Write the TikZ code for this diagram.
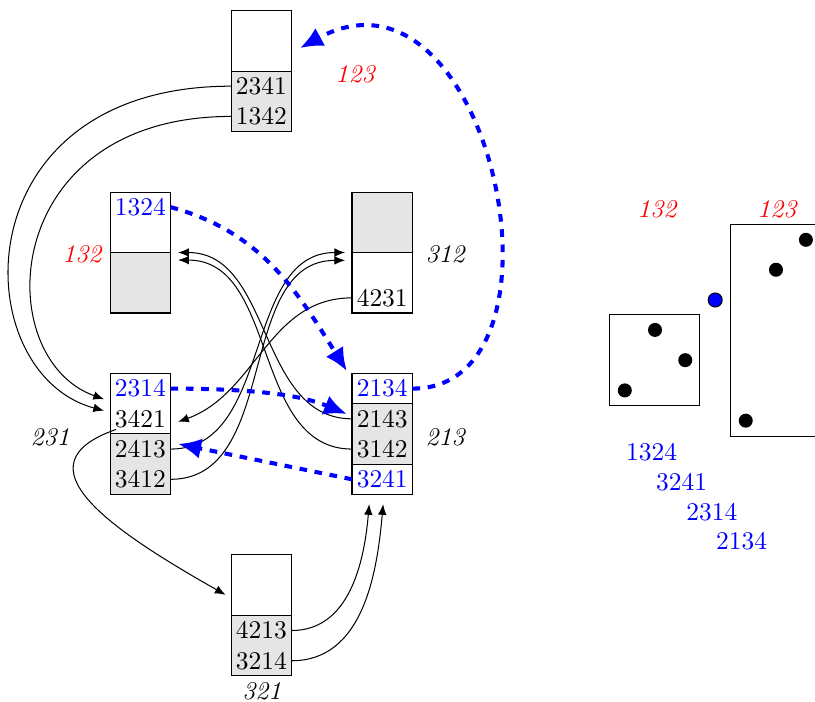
\documentclass[tikz,border=0pt]{standalone}
\usepackage{tikz}
\usetikzlibrary{arrows.meta, calc}

\begin{document}
\begin{tikzpicture}[
    x=0.417cm, y=0.417cm,
    row/.style={minimum width=8.34mm, minimum height=4.17mm, inner sep=0pt, outer sep=0pt},
    lowfill/.style={fill=gray!20},
    perm/.style={font=\itshape},
    arr/.style={-{Latex[length=4.2pt,width=3.4pt]}},
    jump/.style={-{Latex[length=9pt,width=8pt]}, blue, dashed, ultra thick},
    pt/.style={circle, fill=black, inner sep=0pt, minimum size=5.5pt},
]
    \useasboundingbox (-0.64,-0.86) rectangle (26.31,22.35);

    % cells, white and grey parts
    \draw (7,20) rectangle (9,22);
    \filldraw[lowfill] (7,18) rectangle (9,20);
    \draw (3,14) rectangle (5,16);
    \filldraw[lowfill] (3,12) rectangle (5,14);
    \filldraw[lowfill] (11,14) rectangle (13,16);
    \draw (11,12) rectangle (13,14);
    \draw (3,8) rectangle (5,10);
    \filldraw[lowfill] (3,6) rectangle (5,8);
    \draw (11,9) rectangle (13,10);
    \filldraw[lowfill] (11,7) rectangle (13,9);
    \draw (11,6) rectangle (13,7);
    \draw (7,2) rectangle (9,4);
    \filldraw[lowfill] (7,0) rectangle (9,2);

    % entries
    \node[row] (r2341) at (8,19.5) {2341};
    \node[row] (r1342) at (8,18.5) {1342};
    \node[row, text=blue] (r1324) at (4,15.5) {1324};
    \node[row] (r4231) at (12,12.5) {4231};
    \node[row, text=blue] (r2314) at (4,9.5) {2314};
    \node[row] (r3421) at (4,8.5) {3421};
    \node[row] (r2413) at (4,7.5) {2413};
    \node[row] (r3412) at (4,6.5) {3412};
    \node[row, text=blue] (r2134) at (12,9.5) {2134};
    \node[row] (r2143) at (12,8.5) {2143};
    \node[row] (r3142) at (12,7.5) {3142};
    \node[row, text=blue] (r3241) at (12,6.5) {3241};
    \node[row] (r4213) at (8,1.5) {4213};
    \node[row] (r3214) at (8,0.5) {3214};

    % pattern names
    \node[perm, text=red] (l123) at (11.1,19.9) {123};
    \node[perm, text=red] (l132) at (2.07,13.95) {132};
    \node[perm] (l312) at (14.08,13.95) {312};
    \node[perm] (l231) at (1.02,7.9) {231};
    \node[perm] (l213) at (14.08,7.9) {213};
    \node[perm] (l321) at (8.02,-0.5) {321};

    % free ends
    \coordinate (in231a) at (2.8,9.15);
    \coordinate (in231b) at (2.8,8.77);
    \coordinate (in231c) at (5.25,8.4);
    \coordinate (in231d) at (5.25,7.67);
    \coordinate (in132a) at (5.25,14.0);
    \coordinate (in132b) at (5.25,13.75);
    \coordinate (in312a) at (10.77,14.0);
    \coordinate (in312b) at (10.77,13.74);
    \coordinate (in321) at (6.82,2.68);
    \coordinate (in213a) at (10.83,10.08);
    \coordinate (in213b) at (10.83,8.66);
    \coordinate (in213c) at (11.57,5.68);
    \coordinate (in213d) at (12.03,5.68);
    \coordinate (in123) at (9.28,20.76);

    \draw[arr] (r2341.west) .. controls (-2,19.5) and (-1.8,10) .. (in231b);
    \draw[arr] (r1342.west) .. controls (-0.7,18.5) and (-1,10.5) .. (in231a);
    \draw[arr] (r2143.west) to[out=180,in=0] (in132a);
    \draw[arr] (r3142.west) to[out=180,in=0] (in132b);
    \draw[arr] (r2413.east) to[out=0,in=180] (in312a);
    \draw[arr] (r3412.east) to[out=0,in=180] (in312b);
    \draw[arr] (r4231.west) to[out=180,in=20] (in231c);
    \draw[arr] ($(r3421.south west)+(0.2,0.15)$) .. controls (-0.1,7) and (2.9,4.9) .. (in321);
    \draw[arr] (r4213.east) to[out=0,in=265] (in213c);
    \draw[arr] (r3214.east) to[out=0,in=265] (in213d);

    % blue moves
    \draw[jump] (r1324.east) to[out=-15,in=122] (in213a);
    \draw[jump] (r2314.east) .. controls (8.5,9.5) and (9.63,9.15) .. (in213b);
    \draw[jump] (r3241.west) -- (in231d);
    \draw[jump] (r2134.east) .. controls (18.6,9.5) and (15.6,24.2) .. (in123);

    % point plots
    \node[perm, text=red] (p132) at (21.08,15.44) {132};
    \node[perm, text=red] (p123) at (25.05,15.44) {123};
    \draw (19.5,8.95) rectangle (22.5,11.95);
    \draw (23.53,7.93) rectangle (26.53,14.93);
    \node[pt] (a1) at (20.02,9.44) {};
    \node[pt] (a2) at (21.02,11.44) {};
    \node[pt] (a3) at (22.02,10.44) {};
    \node[pt] (b1) at (24.02,8.44) {};
    \node[pt] (b2) at (25.02,13.43) {};
    \node[pt] (b3) at (26.01,14.42) {};
    \node[pt, fill=blue, draw=black, thin] (new) at (23.01,12.43) {};

    \node[text=blue] (s1) at (20.91,7.41) {1324};
    \node[text=blue] (s2) at (21.9,6.42) {3241};
    \node[text=blue] (s3) at (22.9,5.43) {2314};
    \node[text=blue] (s4) at (23.88,4.44) {2134};
\end{tikzpicture}
\end{document}
